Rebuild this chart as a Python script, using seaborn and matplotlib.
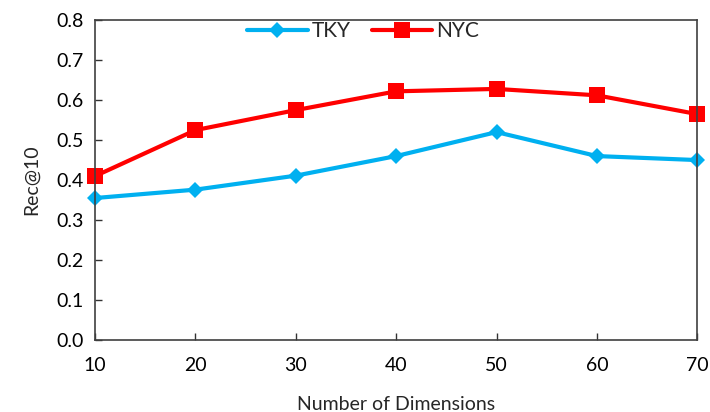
import matplotlib
matplotlib.use("Agg")
import matplotlib.pyplot as plt
import seaborn as sns
import pandas as pd

dims = [10, 20, 30, 40, 50, 60, 70]
tky = [0.355, 0.376, 0.411, 0.460, 0.520, 0.460, 0.450]
nyc = [0.410, 0.525, 0.575, 0.622, 0.628, 0.612, 0.565]
yticks = [0.0, 0.1, 0.2, 0.3, 0.4, 0.5, 0.6, 0.7, 0.8]

sns.set_style("ticks")
plt.rcParams['font.family'] = ['Lato', 'DejaVu Sans']

df = pd.DataFrame({"dim": dims * 2, "val": tky + nyc,
                   "city": ["TKY"] * len(dims) + ["NYC"] * len(dims)})

fig = plt.figure(figsize=(7.1, 4.12), dpi=100)
ax = fig.add_axes([0.134, 0.175, 0.848, 0.776])

sns.lineplot(data=df, x="dim", y="val", hue="city", style="city",
             palette={"TKY": "#00B0F0", "NYC": "#FF0000"},
             markers={"TKY": "D", "NYC": "s"}, dashes=False,
             markersize=11, linewidth=3, markeredgewidth=0, ax=ax, clip_on=False)
for ln in ax.lines:
    if ln.get_marker() == "D":
        ln.set_markersize(8)

ax.set_xlim(10, 70)
ax.set_ylim(0, 0.8)
ax.set_xticks(dims)
ax.set_yticks(yticks)
ax.set_yticklabels([f"{v:.1f}" for v in yticks])
ax.tick_params(direction="in", length=5, width=1, labelsize=14, colors="#333333",
               pad=8)
ax.tick_params(axis="x", pad=12)
for t in ax.get_xticklabels() + ax.get_yticklabels():
    t.set_color("black")
for s in ax.spines.values():
    s.set_visible(True)
    s.set_color("#404040")
    s.set_linewidth(1.2)

ax.set_xlabel("Number of Dimensions", fontsize=14, labelpad=16)
ax.set_ylabel("Rec@10", fontsize=14, labelpad=12)

handles, labels = ax.get_legend_handles_labels()
for h in handles:
    if h.get_marker() == "s":
        h.set_markersize(11)
    else:
        h.set_markersize(8)
ax.legend(handles, labels, loc="upper center", bbox_to_anchor=(0.445, 1.055),
          ncol=2, frameon=False, fontsize=15, handlelength=2.9,
          handletextpad=0.2, columnspacing=1.0)

fig.savefig("out.png", dpi=100)
